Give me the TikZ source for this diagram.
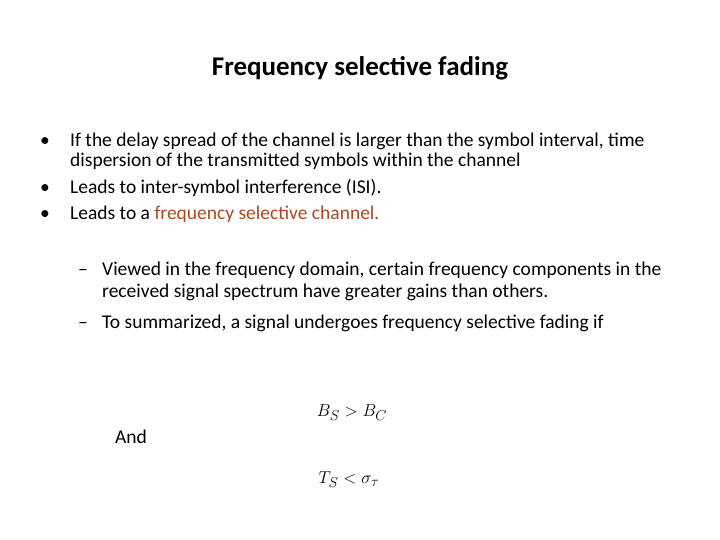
\documentclass[tikz,border=0pt]{standalone}
\usepackage{fontspec}
\setmainfont{Carlito}
\definecolor{rust}{RGB}{178,72,30}
\begin{document}
\begin{tikzpicture}[x=1pt,y=1pt,yscale=-1,
  body/.style={anchor=base west,inner sep=0pt,font=\fontsize{19.5}{21}\selectfont,align=left},
  mathtxt/.style={anchor=center,inner sep=0pt,font=\fontsize{19}{22}\selectfont}]
\useasboundingbox[fill=white] (0,0) rectangle (720,539);
% title
\node[inner sep=0pt,font=\fontsize{27}{30}\selectfont\bfseries] (title) at (360,68) {Frequency selective fading};
% bullets
\node[body] (b1) at (40,146) {\textbullet};
\node[body] (t1) at (70,146) {If the delay spread of the channel is larger than the symbol interval, time};
\node[body] (t1b) at (70,166) {dispersion of the transmitted symbols within the channel};
\node[body] (b2) at (40,193) {\textbullet};
\node[body] (t2) at (70,193) {Leads to inter-symbol interference (ISI).};
\node[body] (b3) at (40,219) {\textbullet};
\node[body] (t3) at (70,219) {Leads to a \textcolor{rust}{frequency selective channel.}};
% sub items
\node[body] (d1) at (78,275) {--};
\node[body] (s1) at (102,275) {Viewed in the frequency domain, certain frequency components in the};
\node[body] (s1b) at (102,297) {received signal spectrum have greater gains than others.};
\node[body] (d2) at (78,328) {--};
\node[body] (s2) at (102,328) {To summarized, a signal undergoes frequency selective fading if};
% conditions
\node[mathtxt] (eq1) at (352,413) {$B_S > B_C$};
\node[body] (and) at (115,443) {And};
\node[mathtxt] (eq2) at (349,480) {$T_S < \sigma_\tau$};
\end{tikzpicture}
\end{document}
